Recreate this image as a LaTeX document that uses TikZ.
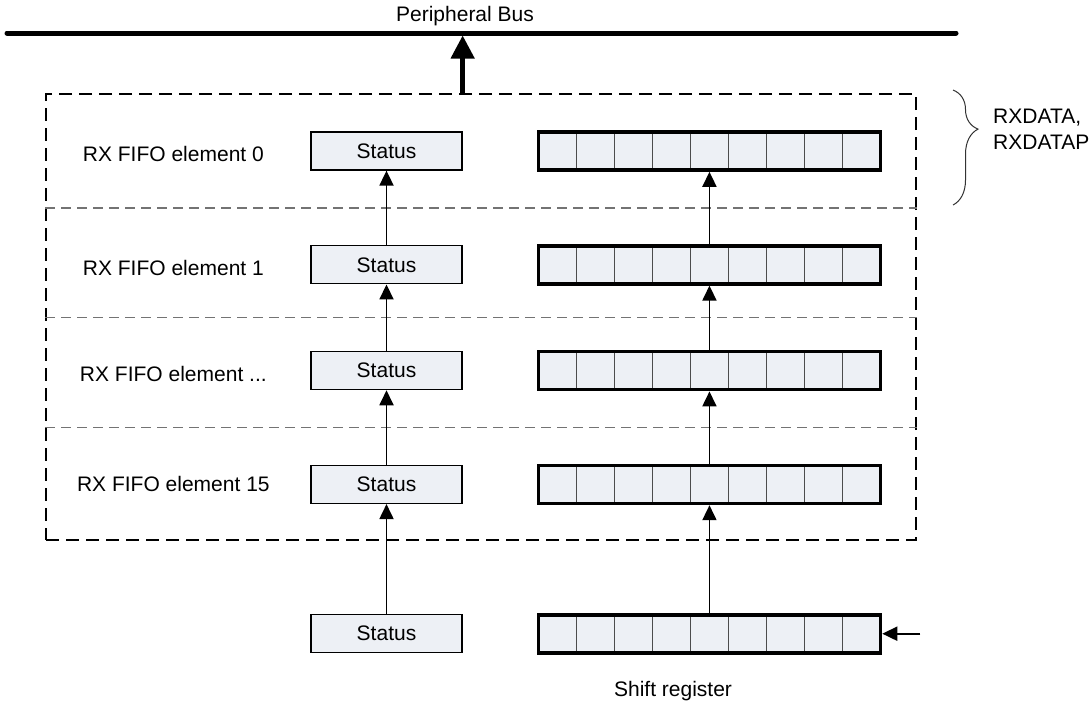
\documentclass[tikz,border=0pt]{standalone}
\usepackage{fontspec}
\setmainfont{Liberation Sans}
\usetikzlibrary{positioning,arrows.meta,fit,calc,decorations.pathreplacing}
\definecolor{regfill}{RGB}{237,240,245}

\begin{document}
\begin{tikzpicture}[
  x=1pt,y=1pt,
  font=\fontsize{21}{26}\selectfont,
  status/.style={rectangle,draw=black,line width=1.3pt,fill=regfill,
                 minimum width=151pt,minimum height=38pt,inner sep=0pt},
  reg/.style={rectangle,draw=black,line width=3.6pt,fill=regfill,
              minimum width=342pt,minimum height=38pt,inner sep=0pt,
              path picture={\foreach \k in {1,...,8}
                {\draw[black!70,line width=1.3pt]
                  ($(path picture bounding box.south west)!\k/9!(path picture bounding box.south east)$) --
                  ($(path picture bounding box.north west)!\k/9!(path picture bounding box.north east)$);}}},
  lbl/.style={inner sep=0pt},
  fifobox/.style={rectangle,draw=black,line width=1.8pt,dash pattern=on 13pt off 7pt,inner sep=0pt},
  sepline/.style={draw=black!55,line width=1.2pt,dash pattern=on 10pt off 6pt},
  arr/.style={-{Triangle[length=15pt,width=14pt]},line width=1.8pt},
  busarr/.style={-{Triangle[length=23pt,width=23pt]},line width=4.5pt},
  bus/.style={line width=5pt,line cap=round},
]
\useasboundingbox (0,0) rectangle (1091,-704);

% ---------- Peripheral bus ----------
\coordinate (busL) at (7,-33);
\coordinate (busR) at (956,-33);
\draw[bus] (busL) -- (busR);
\node (pbus) at (465,-16) {Peripheral Bus};

% ---------- FIFO elements ----------
\node[status] (st0) at (386.5,-151) {Status};
\node[status,below=74.5pt of st0] (st1) {Status};
\node[status,below=66.5pt of st1] (st2) {Status};
\node[status,below=74.5pt of st2] (st3) {Status};
\node[status,below=110pt of st3] (stb) {Status};

\node[reg,right=74pt of st0] (rg0) {};
\node[reg,right=74pt of st1] (rg1) {};
\node[reg,right=74pt of st2] (rg2) {};
\node[reg,right=74pt of st3] (rg3) {};
\node[reg,right=74pt of stb] (rgb) {};

\node[lbl] (lb0) at ($(st0.west)+(-137,-3)$) {RX FIFO element 0};
\node[lbl] (lb1) at ($(st1.west)+(-137,-3)$) {RX FIFO element 1};
\node[lbl] (lb2) at ($(st2.west)+(-137,-3)$) {RX FIFO element ...};
\node[lbl] (lb3) at ($(st3.west)+(-137,0)$) {RX FIFO element 15};

% dashed frame round the FIFO
\coordinate (fnw) at (46,-94);
\coordinate (fse) at (916,-540);
\node[fifobox,fit=(fnw)(fse)] (fifo) {};
\coordinate (s1) at ($(st0.south)!0.5!(st1.north)$);
\coordinate (s2) at ($(st1.south)!0.5!(st2.north)$);
\coordinate (s3) at ($(st2.south)!0.5!(st3.north)$);
\draw[sepline] (fifo.west |- s1) -- (fifo.east |- s1);
\draw[sepline] (fifo.west |- s2) -- (fifo.east |- s2);
\draw[sepline] (fifo.west |- s3) -- (fifo.east |- s3);

% ---------- data flow ----------
\draw[arr] (stb) -- (st3);
\draw[arr] (st3) -- (st2);
\draw[arr] (st2) -- (st1);
\draw[arr] (st1) -- (st0);
\draw[arr] (rgb) -- (rg3);
\draw[arr] (rg3) -- (rg2);
\draw[arr] (rg2) -- (rg1);
\draw[arr] (rg1) -- (rg0);
\draw[busarr,shorten >=2.5pt] (st0.east |- fifo.north) -- (st0.east |- busL);

\coordinate[right=38pt of rgb] (sin);
\draw[arr] (sin) -- (rgb);
\node (shlbl) at (673,-691) {Shift register};

% ---------- register names ----------
\coordinate (brt) at (953,-90);
\coordinate (brb) at (953,-205);
\draw[black!80,line width=1pt,decorate,decoration={brace,amplitude=25pt,aspect=0.34}] (brt) -- (brb);
\node[lbl,anchor=west,align=left] (rxlbl) at (993,-129) {RXDATA,\\RXDATAP};
\end{tikzpicture}
\end{document}
